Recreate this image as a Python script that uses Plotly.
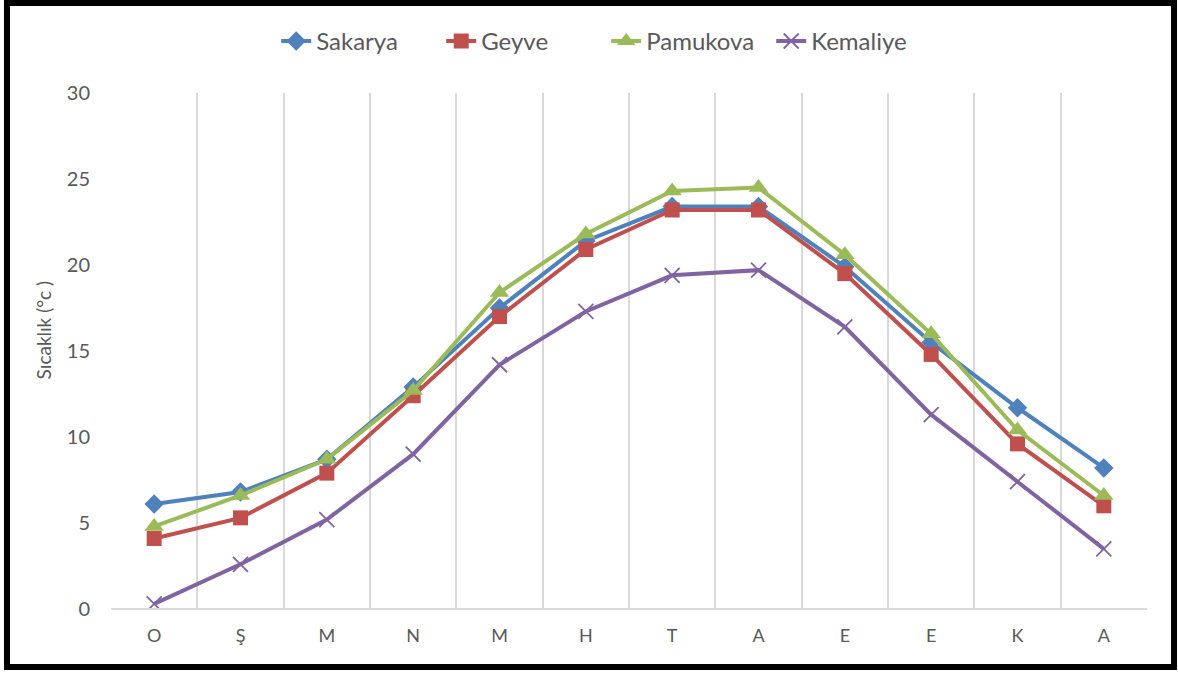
import plotly.graph_objects as go

# months (Ocak..Aralık, first letters)
months = ["O", "Ş", "M", "N", "M", "H", "T", "A", "E", "E", "K", "A"]

sakarya = [6.1, 6.8, 8.7, 12.9, 17.5, 21.4, 23.4, 23.4, 19.9, 15.5, 11.7, 8.2]
geyve = [4.1, 5.3, 7.9, 12.4, 17.0, 20.9, 23.2, 23.2, 19.5, 14.8, 9.6, 6.0]
pamukova = [4.8, 6.6, 8.7, 12.7, 18.4, 21.8, 24.3, 24.5, 20.6, 16.0, 10.4, 6.6]
kemaliye = [0.3, 2.6, 5.2, 9.0, 14.2, 17.3, 19.4, 19.7, 16.4, 11.3, 7.4, 3.5]

series = [
    ("Sakarya", sakarya, "#4F81BD", dict(symbol="diamond", size=15)),
    ("Geyve", geyve, "#C0504D", dict(symbol="square", size=15)),
    ("Pamukova", pamukova, "#9BBB59", dict(symbol="triangle-up", size=17)),
    ("Kemaliye", kemaliye, "#8064A2", dict(symbol="x-thin", size=15)),
]

x = list(range(len(months)))
FONT = "Lato, 'Open Sans', sans-serif"
GREY = "#595959"

fig = go.Figure()
for name, vals, color, mk in series:
    marker = dict(color=color, **mk)
    if mk["symbol"] == "x-thin":
        marker["line"] = dict(color=color, width=1.8)
    fig.add_trace(go.Scatter(
        x=x, y=vals, name=name,
        mode="lines+markers",
        line=dict(color=color, width=4),
        marker=marker,
    ))

fig.update_layout(
    width=1178, height=673,
    margin=dict(l=111, r=31, t=93, b=64),
    paper_bgcolor="white",
    plot_bgcolor="white",
    font=dict(family=FONT, color=GREY),
    showlegend=True,
    legend=dict(
        orientation="h",
        x=0.478, xanchor="center",
        y=1.10, yanchor="middle",
        font=dict(size=24, color=GREY),
        bgcolor="rgba(0,0,0,0)",
        entrywidth=120,
        entrywidthmode="pixels",
    ),
    xaxis=dict(
        range=[-0.5, 11.5],
        tickvals=x,
        ticktext=months,
        showgrid=False,
        zeroline=False,
        showline=False,
        tickfont=dict(family=FONT, size=18, color=GREY),
        ticklabelstandoff=14,
        minor=dict(
            tickvals=[i - 0.5 for i in range(len(months) + 1)],
            showgrid=True,
            gridcolor="#D9D9D9",
            gridwidth=1.5,
        ),
    ),
    yaxis=dict(
        range=[0, 30],
        dtick=5,
        showgrid=False,
        zeroline=False,
        showline=False,
        tickfont=dict(family=FONT, size=20, color=GREY),
        ticklabelstandoff=20,
    ),
    annotations=[
        dict(text="Sıcaklık (°c )", textangle=-90, showarrow=False,
             xref="paper", yref="paper", x=-0.0656, y=0.54,
             xanchor="center", yanchor="middle",
             font=dict(family=FONT, size=19, color=GREY)),
    ],
    shapes=[
        # bottom axis line
        dict(type="line", xref="paper", yref="paper", x0=0, x1=1, y0=0, y1=0,
             line=dict(color="#D9D9D9", width=2)),
        # black frame around the chart
        dict(type="rect", xref="paper", yref="paper",
             x0=-0.1004, x1=1.0261, y0=-0.1124, y1=1.1744,
             line=dict(color="black", width=6)),
    ],
)

fig.write_html("out.html", config={"displayModeBar": False},
               post_script="document.body.style.margin='0';")
